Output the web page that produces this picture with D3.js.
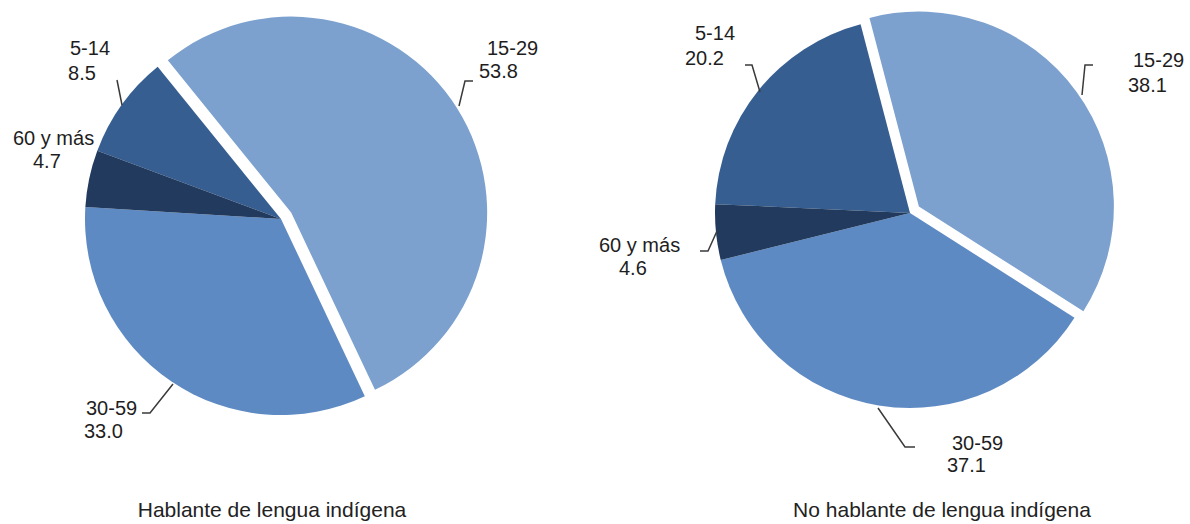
<!DOCTYPE html>
<html><head><meta charset="utf-8">
<script src="https://cdn.jsdelivr.net/npm/d3@7/dist/d3.min.js"></script>
<style>
html,body{margin:0;padding:0;background:#fff;}
svg{display:block;font-family:"Liberation Sans",Arial,sans-serif;}
</style></head>
<body>
<svg id="chart" width="1190" height="524"></svg>
<script>
// ---- data ----
const categories = ["5-14", "15-29", "30-59", "60 y más"];
const hablanteValues = [8.5, 53.8, 33.0, 4.7];
const noHablanteValues = [20.2, 38.1, 37.1, 4.6];
const valueLabelsHablante = ["8.5", "53.8", "33.0", "4.7"];
const valueLabelsNoHablante = ["20.2", "38.1", "37.1", "4.6"];
const chartTitles = ["Hablante de lengua indígena", "No hablante de lengua indígena"];

// ---- styling / layout ----
const colors = d3.scaleOrdinal().domain(categories)
  .range(["#365E91", "#7CA1CF", "#5E8AC3", "#213A5D"]);
const explodedCategory = "15-29";

const pies = [
  { values: hablanteValues, valueLabels: valueLabelsHablante, title: chartTitles[0],
    cx: 281, cy: 219, r: 196, startDeg: 290.4, explode: 12, titleX: 272,
    labels: [
      { cat: "5-14",     x: 90,   y1: 55,  y2: 80,  anchor: "middle", dx2: -8 },
      { cat: "15-29",    x: 487,  y1: 55,  y2: 78,  anchor: "start",  dx2: -8 },
      { cat: "30-59",    x: 86,   y1: 415, y2: 438, anchor: "start",  dx2: -2 },
      { cat: "60 y más", x: 13,   y1: 145, y2: 168, anchor: "start",  dx2: 20 }
    ],
    leaders: [
      [[117, 80], [122, 105]],
      [[473, 81], [465, 81], [459, 106]],
      [[142, 413], [150, 413], [173, 384]]
    ]
  },
  { values: noHablanteValues, valueLabels: valueLabelsNoHablante, title: chartTitles[1],
    cx: 910, cy: 213, r: 195, startDeg: 272.6, explode: 11, titleX: 942,
    labels: [
      { cat: "5-14",     x: 695,  y1: 40,  y2: 65,  anchor: "start",  dx2: -10 },
      { cat: "15-29",    x: 1133, y1: 67,  y2: 92,  anchor: "start",  dx2: -5 },
      { cat: "30-59",    x: 952,  y1: 450, y2: 472, anchor: "start",  dx2: -5 },
      { cat: "60 y más", x: 599,  y1: 252, y2: 275, anchor: "start",  dx2: 20 }
    ],
    leaders: [
      [[745, 65], [752, 65], [760, 92]],
      [[1093, 65], [1085, 65], [1082, 95]],
      [[878, 408], [905, 447], [915, 447]],
      [[700, 251], [708, 251], [717, 231]]
    ]
  }
];

const svg = d3.select("#chart");
const rad = Math.PI / 180;

pies.forEach(p => {
  const g = svg.append("g").attr("transform", `translate(${p.cx},${p.cy})`);
  const pie = d3.pie().sort(null).value(d => d.v)
    .startAngle(p.startDeg * rad).endAngle(p.startDeg * rad + 2 * Math.PI);
  const arcs = pie(categories.map((c, i) => ({ c, v: p.values[i] })));
  const arc = d3.arc().innerRadius(0).outerRadius(p.r);
  g.selectAll("path").data(arcs).join("path")
    .attr("d", arc)
    .attr("fill", d => colors(d.data.c))
    .attr("transform", d => {
      if (d.data.c !== explodedCategory) return null;
      const mid = (d.startAngle + d.endAngle) / 2;
      return `translate(${p.explode * Math.sin(mid)},${-p.explode * Math.cos(mid)})`;
    });

  // leader lines
  const line = d3.line();
  svg.append("g").selectAll("path").data(p.leaders).join("path")
    .attr("d", line).attr("fill", "none").attr("stroke", "#3a3a3a").attr("stroke-width", 1.5);

  // labels
  const lg = svg.append("g").attr("fill", "#1e1e1e").attr("font-size", "20px");
  p.labels.forEach(l => {
    const i = categories.indexOf(l.cat);
    lg.append("text").attr("x", l.x).attr("y", l.y1).attr("text-anchor", l.anchor).text(l.cat);
    lg.append("text").attr("x", l.x + l.dx2).attr("y", l.y2).attr("text-anchor", l.anchor).text(p.valueLabels[i]);
  });

  svg.append("text").attr("x", p.titleX).attr("y", 517).attr("text-anchor", "middle")
    .attr("font-size", "21px").attr("fill", "#222").text(p.title);
});
</script>
</body></html>
